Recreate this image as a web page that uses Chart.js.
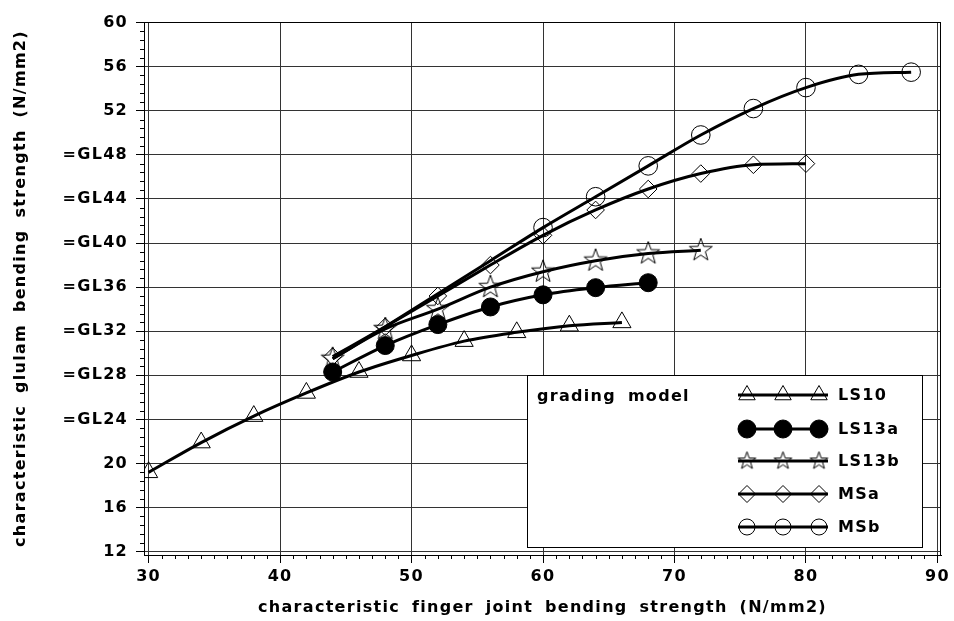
<!DOCTYPE html>
<html>
<head>
<meta charset="utf-8">
<title>grading model</title>
<script src="https://cdn.jsdelivr.net/npm/chart.js@4.4.1/dist/chart.umd.min.js"></script>
<style>
  html, body { margin: 0; padding: 0; background: #fff; }
  #wrap { width: 954px; height: 621px; position: relative; }
</style>
</head>
<body>
<div id="wrap"><canvas id="strengthChart"></canvas></div>
<script>
// finger joint bending strength (x) against glulam bending strength (y), N/mm2
const ls10X = [30, 34, 38, 42, 46, 50, 54, 58, 62, 66];
const ls10Y = [19.2, 21.9, 24.3, 26.4, 28.3, 29.8, 31.1, 31.9, 32.5, 32.8];
const ls13aX = [44, 48, 52, 56, 60, 64, 68];
const ls13aY = [28.3, 30.7, 32.6, 34.2, 35.3, 35.95, 36.4];
const ls13bX = [44, 48, 52, 56, 60, 64, 68, 72];
const ls13bY = [29.5, 32.2, 34.0, 36.0, 37.4, 38.4, 39.05, 39.35];
const msaX = [44, 48, 52, 56, 60, 64, 68, 72, 76, 80];
const msaY = [29.7, 32.4, 35.2, 38.0, 40.7, 43.0, 44.9, 46.3, 47.1, 47.2];
const msbX = [44, 48, 52, 56, 60, 64, 68, 72, 76, 80, 84, 88];
const msbY = [29.5, 32.4, 35.4, 38.4, 41.4, 44.2, 47.0, 49.8, 52.2, 54.1, 55.3, 55.5];
const msbFirstSymbol = 60; // MSb symbols only from here on

const seriesNames = ['LS10', 'LS13a', 'LS13b', 'MSa', 'MSb'];
const xTicks = [30, 40, 50, 60, 70, 80, 90];
const yTicks = [12, 16, 20, 24, 28, 32, 36, 40, 44, 48, 52, 56, 60];
const glTicks = [24, 28, 32, 36, 40, 44, 48]; // shown as glulam classes

const FONT = 'DejaVu Sans';
Chart.defaults.font.family = FONT;
Chart.defaults.font.size = 16;
Chart.defaults.font.weight = 'bold';
Chart.defaults.color = '#000';

// five pointed star outline, used as a point style
function makeStar(R) {
  const c = document.createElement('canvas');
  const s = Math.ceil(2 * R + 4);
  c.width = s; c.height = s;
  const g = c.getContext('2d');
  const r = R * 0.40;
  g.beginPath();
  for (let i = 0; i < 10; i++) {
    const a = -Math.PI / 2 + i * Math.PI / 5;
    const rr = i % 2 ? r : R;
    const px = s / 2 + Math.cos(a) * rr, py = s / 2 + Math.sin(a) * rr;
    i ? g.lineTo(px, py) : g.moveTo(px, py);
  }
  g.closePath();
  g.strokeStyle = '#000';
  g.lineWidth = 1;
  g.stroke();
  return c;
}

const styles = {
  LS10:  { pointStyle: 'triangle', radius: 10.5, fill: 'rgba(0,0,0,0)', legendRadius: 9.5 },
  LS13a: { pointStyle: 'circle', radius: 9, fill: '#000', legendRadius: 9 },
  LS13b: { pointStyle: makeStar(12), radius: 12, fill: 'rgba(0,0,0,0)', legend: makeStar(9.3) },
  MSa:   { pointStyle: 'rectRot', radius: 8.8, fill: 'rgba(0,0,0,0)', legendRadius: 8.5 },
  MSb:   { pointStyle: 'circle', radius: 9.3, fill: 'rgba(0,0,0,0)', legendRadius: 8 }
};

function toPoints(xs, ys) {
  return xs.map((v, i) => ({ x: v, y: ys[i] }));
}

function makeDataset(name, xs, ys) {
  const st = styles[name];
  return {
    label: name,
    data: toPoints(xs, ys),
    borderColor: '#000',
    borderWidth: 3,
    fill: false,
    cubicInterpolationMode: 'monotone',
    pointStyle: st.pointStyle,
    pointRadius: name === 'MSb' ? (c => c.raw.x < msbFirstSymbol ? 0 : st.radius) : st.radius,
    pointBorderWidth: 1,
    pointBorderColor: '#000',
    pointBackgroundColor: st.fill,
    backgroundColor: st.fill
  };
}

// wide letter and word spacing for all text
const spacingPlugin = {
  id: 'spacingPlugin',
  beforeDraw(chart) {
    chart.ctx.letterSpacing = '1.3px';
    chart.ctx.wordSpacing = '5px';
  }
};

// minor ticks, closed frame and the boxed legend
const framePlugin = {
  id: 'framePlugin',
  afterDraw(chart) {
    const { ctx, chartArea: a } = chart;
    const x = chart.scales.x, y = chart.scales.y;
    ctx.save();
    ctx.strokeStyle = '#000';
    ctx.lineWidth = 1;
    ctx.beginPath();
    for (let v = 31; v < 90; v++) {
      if (v % 10 === 0) continue;
      const px = Math.round(x.getPixelForValue(v)) + 0.5;
      ctx.moveTo(px, a.bottom);
      ctx.lineTo(px, a.bottom + 4);
    }
    for (let i = 1; i < 60; i++) {
      if (i % 5 === 0) continue;
      const py = Math.round(y.getPixelForValue(12 + i * 0.8)) + 0.5;
      ctx.moveTo(a.left - 4, py);
      ctx.lineTo(a.left, py);
    }
    ctx.moveTo(a.left, a.top + 0.5);
    ctx.lineTo(a.right, a.top + 0.5);
    ctx.moveTo(a.right - 0.5, a.top);
    ctx.lineTo(a.right - 0.5, a.bottom);
    ctx.stroke();

    // legend box
    const L = 527, T = 375, R = 923, B = 548;
    ctx.fillStyle = '#fff';
    ctx.fillRect(L, T, R - L, B - T);
    ctx.strokeRect(L + 0.5, T + 0.5, R - L - 1, B - T - 1);
    ctx.fillStyle = '#000';
    ctx.font = 'bold 16px "' + FONT + '"';
    ctx.textBaseline = 'middle';
    ctx.textAlign = 'left';
    ctx.fillText('grading model', 537, 397);
    const rows = [395, 429, 461, 494, 527];
    const marks = [747, 783, 819];
    seriesNames.forEach((name, i) => {
      const st = styles[name];
      const yy = rows[i];
      ctx.beginPath();
      ctx.lineWidth = 3;
      ctx.strokeStyle = '#000';
      ctx.moveTo(738, yy);
      ctx.lineTo(828, yy);
      ctx.stroke();
      ctx.lineWidth = 1;
      marks.forEach(mx => {
        ctx.fillStyle = st.fill;
        Chart.helpers.drawPoint(ctx, {
          pointStyle: st.legend || st.pointStyle,
          radius: st.legendRadius || 8,
          rotation: 0,
          borderWidth: 1
        }, mx, yy);
      });
      ctx.fillStyle = '#000';
      ctx.fillText(name, 838, yy + 1);
    });
    ctx.restore();
  }
};

new Chart(document.getElementById('strengthChart'), {
  type: 'line',
  data: {
    datasets: [
      makeDataset('LS10', ls10X, ls10Y),
      makeDataset('LS13a', ls13aX, ls13aY),
      makeDataset('LS13b', ls13bX, ls13bY),
      makeDataset('MSa', msaX, msaY),
      makeDataset('MSb', msbX, msbY)
    ]
  },
  options: {
    responsive: true,
    maintainAspectRatio: false,
    animation: false,
    layout: { padding: { left: 0, right: 13, top: 22, bottom: 0 } },
    plugins: {
      legend: { display: false },
      tooltip: { enabled: false }
    },
    scales: {
      x: {
        type: 'linear',
        min: 29.65,
        max: 90.27,
        afterBuildTicks: s => { s.ticks = xTicks.map(v => ({ value: v })); },
        afterFit: s => { s.height = 66; },
        grid: { color: '#333', lineWidth: 1, tickLength: 8, tickColor: '#000' },
        border: { color: '#000', width: 1 },
        ticks: { padding: 4, maxRotation: 0, autoSkip: false },
        title: {
          display: true,
          text: 'characteristic finger joint bending strength (N/mm2)',
          padding: { top: 4, bottom: 4 }
        }
      },
      y: {
        type: 'linear',
        min: 11.7,
        max: 60.05,
        afterBuildTicks: s => { s.ticks = yTicks.map(v => ({ value: v })); },
        afterFit: s => { s.width = 144; },
        grid: { color: '#333', lineWidth: 1, tickLength: 8, tickColor: '#000' },
        border: { color: '#000', width: 1 },
        ticks: {
          padding: 8,
          autoSkip: false,
          callback: v => glTicks.includes(v) ? '=GL' + v : String(v)
        },
        title: {
          display: true,
          text: 'characteristic glulam bending strength (N/mm2)',
          padding: { top: 11, bottom: 11 }
        }
      }
    }
  },
  plugins: [spacingPlugin, framePlugin]
});
</script>
</body>
</html>
